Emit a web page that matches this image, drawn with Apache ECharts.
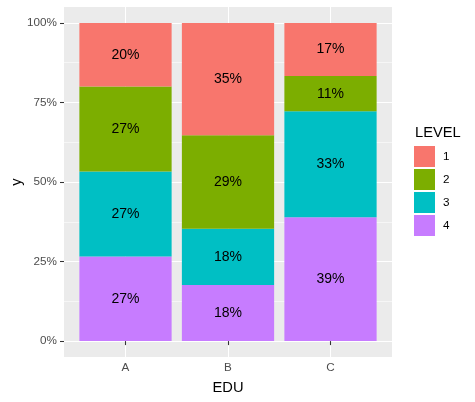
<!DOCTYPE html>
<html><head><meta charset="utf-8">
<script src="https://cdn.jsdelivr.net/npm/echarts@6/dist/echarts.min.js"></script>
<style>html,body{margin:0;padding:0;background:#fff}#c{width:475px;height:402px}</style>
</head><body><div id="c"></div>
<script>
const edu = ['A', 'B', 'C'];
const levels = ['1', '2', '3', '4'];
const level1 = [20, 35.3, 16.7];
const level2 = [26.7, 29.4, 11.1];
const level3 = [26.7, 17.7, 33.3];
const level4 = [26.6, 17.6, 38.9];
const yTicks = [0, 25, 50, 75, 100];
const yMinor = [12.5, 37.5, 62.5, 87.5];
const colors = ['#F8766D', '#7CAE00', '#00BFC4', '#C77CFF'];
const values = [level1, level2, level3, level4];

const FONT = '"Liberation Sans", Arial, sans-serif';
const chart = echarts.init(document.getElementById('c'), null, {renderer: 'canvas'});

const series = [3, 2, 1, 0].map(i => ({
  name: levels[i],
  type: 'bar',
  stack: 'all',
  xAxisIndex: 1,
  yAxisIndex: 2,
  barCategoryGap: '10%',
  data: values[i],
  itemStyle: {color: colors[i]},
  label: {
    show: true, position: 'inside', color: '#000', fontSize: 14, fontFamily: FONT,
    formatter: p => Math.round(p.value) + '%'
  }
}));

const panel = {left: 64, right: 83, top: 7, bottom: 45};
const unit = (475 - 64 - 83) / 3.2;

chart.setOption({
  animation: false,
  color: colors,
  grid: [
    Object.assign({show: true, backgroundColor: '#EBEBEB', borderWidth: 0, containLabel: false, outerBoundsMode: 'none'}, panel),
    {left: 64 + unit * 0.1, right: 83 + unit * 0.1, top: 7 + 350 * 5 / 110, bottom: 45 + 350 * 5 / 110, containLabel: false, outerBoundsMode: 'none'}
  ],
  xAxis: [
    {
      type: 'value', gridIndex: 0, min: 0.4, max: 3.6,
      axisLine: {show: false},
      axisTick: {show: true, length: 4, lineStyle: {color: '#333', width: 1.07}, customValues: [1, 2, 3]},
      axisLabel: {customValues: [1, 2, 3], formatter: v => edu[Math.round(v) - 1], color: '#4D4D4D', fontSize: 11.7, fontFamily: FONT, margin: 5},
      splitLine: {show: true, lineStyle: {color: '#fff', width: 1.07}},
      name: 'EDU', nameLocation: 'middle', nameGap: 23, nameMoveOverlap: false,
      nameTextStyle: {color: '#000', fontSize: 14.7, fontFamily: FONT}
    },
    {
      type: 'category', gridIndex: 1, data: edu,
      axisLine: {show: false}, axisTick: {show: false}, axisLabel: {show: false}, splitLine: {show: false}
    }
  ],
  yAxis: [
    {
      type: 'value', gridIndex: 0, min: -5, max: 105,
      axisLine: {show: false},
      axisTick: {show: true, length: 4, lineStyle: {color: '#333', width: 1.07}, customValues: yTicks},
      axisLabel: {customValues: yTicks, formatter: v => v + '%', color: '#4D4D4D', fontSize: 11.7, fontFamily: FONT, margin: 7},
      splitLine: {show: true, lineStyle: {color: '#fff', width: 1.07}},
      name: 'y', nameLocation: 'middle', nameGap: 40, nameRotate: 90, nameMoveOverlap: false,
      nameTextStyle: {color: '#000', fontSize: 14.7, fontFamily: FONT}
    },
    {
      type: 'value', gridIndex: 0, min: -5, max: 105, position: 'right',
      axisLine: {show: false},
      axisTick: {show: false, customValues: yMinor},
      axisLabel: {show: false, customValues: yMinor},
      splitLine: {show: true, lineStyle: {color: '#fff', width: 0.55}}
    },
    {
      type: 'value', gridIndex: 1, min: 0, max: 100,
      axisLine: {show: false}, axisTick: {show: false}, axisLabel: {show: false}, splitLine: {show: false}
    }
  ],
  legend: {
    data: levels, orient: 'vertical', left: 414, top: 146, padding: 0,
    itemWidth: 21, itemHeight: 21, itemGap: 2, icon: 'rect',
    textStyle: {color: '#000', fontSize: 11.7, fontFamily: FONT, padding: [0, 0, 0, 3]}
  },
  graphic: [
    {type: 'text', x: 415, y: 133, style: {text: 'LEVEL', fill: '#000', font: '14.7px ' + FONT, verticalAlign: 'middle'}}
  ],
  series: series
});
</script></body></html>
